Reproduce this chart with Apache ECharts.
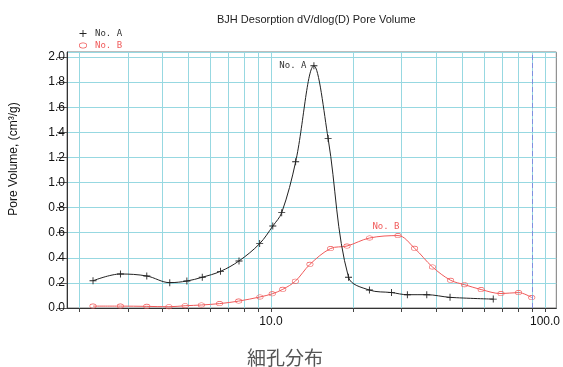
<!DOCTYPE html>
<html>
<head>
<meta charset="utf-8">
<script src="https://cdn.jsdelivr.net/npm/echarts@6/dist/echarts.min.js"></script>
<style>
  html, body { margin: 0; padding: 0; background: #fff; }
  #chart { width: 563px; height: 367px; }
</style>
</head>
<body>
<div id="chart"></div>
<script>
// Pore diameter (nm) and dV/dlog(D) pore volume (cm³/g) for each sample
const diameterA = [2.24, 2.82, 3.52, 4.27, 4.93, 5.61, 6.54, 7.64, 9.09, 10.15, 10.94, 12.30, 14.34, 16.16, 19.18, 22.86, 27.54, 31.45, 37.03, 45.02, 64.73];
const volumeA   = [0.217, 0.271, 0.255, 0.202, 0.215, 0.245, 0.292, 0.375, 0.513, 0.653, 0.760, 1.165, 1.93, 1.350, 0.245, 0.143, 0.123, 0.106, 0.106, 0.085, 0.071];

const diameterB = [2.24, 2.82, 3.52, 4.24, 4.86, 5.57, 6.49, 7.62, 9.11, 10.10, 11.04, 12.27, 13.87, 16.50, 18.94, 22.90, 29.07, 33.42, 38.84, 45.24, 50.84, 58.47, 69.09, 80.09, 89.49];
const volumeB   = [0.015, 0.015, 0.013, 0.010, 0.018, 0.024, 0.035, 0.055, 0.088, 0.113, 0.149, 0.214, 0.348, 0.474, 0.494, 0.558, 0.577, 0.476, 0.327, 0.221, 0.186, 0.147, 0.115, 0.123, 0.083];

const seriesNames = ['No. A', 'No. B'];

// Log-axis ticks/grid and labelled decades
const xTickValues  = [2, 3, 4, 5, 6, 7, 8, 9, 10, 20, 30, 40, 50, 60, 70, 80, 90, 100];
const xLabelValues = [10, 100];
const xMin = 1.8, xMax = 110;
const yMin = 0, yMax = 2.04, yStep = 0.2;
const markerLine = 90;

const chartTitle = 'BJH Desorption dV/dlog(D) Pore Volume';
const yTitle = 'Pore Volume, (cm³/g)';
const xTitle = '細孔分布';

const gridColor = '#97d8e1';
const colorA = '#222222';
const colorB = '#f05a5a';
const monoFont = 'DejaVu Sans Mono';

const plusPath = 'path://M3.5,0h1v3.5h3.5v1h-3.5v3.5h-1v-3.5h-3.5v-1h3.5z';
const ringPath = 'path://M5,0A5,3.6,0,1,1,4.99,0ZM5,0.9A4.1,2.7,0,1,0,5.01,0.9Z';

function pairs(xs, ys, peakLabel, labelOpt) {
  let peak = 0;
  ys.forEach((v, i) => { if (v > ys[peak]) peak = i; });
  return xs.map((x, i) => {
    const item = { value: [x, ys[i]] };
    if (i === peak) {
      item.label = Object.assign({
        show: true,
        formatter: peakLabel,
        fontFamily: monoFont,
        fontSize: 9
      }, labelOpt);
    }
    return item;
  });
}

const chart = echarts.init(document.getElementById('chart'), null, { renderer: 'canvas' });

chart.setOption({
  animation: false,
  backgroundColor: '#ffffff',
  title: {
    text: chartTitle,
    left: 212,
    top: 9,
    textStyle: { fontFamily: 'Liberation Sans, Arial', fontSize: 11, fontWeight: 'normal', color: '#222' }
  },
  legend: {
    orient: 'vertical',
    left: 74,
    top: 24,
    itemWidth: 8,
    itemHeight: 7,
    itemGap: 3,
    selectedMode: false,
    data: [
      { name: seriesNames[0], icon: plusPath, itemStyle: { color: colorA, borderWidth: 0 }, textStyle: { color: '#333' } },
      { name: seriesNames[1], icon: ringPath, itemStyle: { color: colorB, borderWidth: 0 }, textStyle: { color: colorB } }
    ],
    textStyle: { fontFamily: monoFont, fontSize: 9, padding: [0, 0, 0, 3] }
  },
  grid: {
    left: 67,
    top: 52,
    width: 493,
    height: 256,
    show: true,
    borderColor: '#7a7a7a',
    borderWidth: 1
  },
  xAxis: {
    type: 'log',
    logBase: 10,
    min: xMin,
    max: xMax,
    axisLine: { show: true, lineStyle: { color: '#333', width: 1 } },
    axisTick: { show: true, length: 4, customValues: xTickValues, lineStyle: { color: '#444' } },
    axisLabel: {
      customValues: xLabelValues,
      formatter: v => Number(v).toFixed(1),
      margin: 8,
      fontFamily: 'Liberation Sans, Arial',
      fontSize: 12,
      color: '#111'
    },
    splitLine: { show: true, lineStyle: { color: gridColor, width: 1 } },
    minorTick: { show: false },
    minorSplitLine: { show: false }
  },
  yAxis: {
    type: 'value',
    min: yMin,
    max: yMax,
    interval: yStep,
    axisLine: { show: true, lineStyle: { color: '#333', width: 1 } },
    axisTick: { show: true, length: 10, lineStyle: { color: '#555' } },
    axisLabel: {
      showMaxLabel: false,
      formatter: v => v.toFixed(1),
      margin: 2,
      fontFamily: 'Liberation Sans, Arial',
      fontSize: 12,
      color: '#111'
    },
    splitLine: { show: true, lineStyle: { color: gridColor, width: 1 } }
  },
  graphic: [
    {
      type: 'text',
      x: 14,
      y: 159,
      rotation: Math.PI / 2,
      style: {
        text: yTitle,
        fontFamily: 'Liberation Sans, Arial',
        fontSize: 12,
        fill: '#111',
        align: 'center',
        verticalAlign: 'middle'
      }
    },
    {
      type: 'text',
      x: 285,
      y: 358,
      style: {
        text: xTitle,
        fontFamily: 'Noto Sans CJK JP',
        fontSize: 19,
        fill: '#555',
        align: 'center',
        verticalAlign: 'middle'
      }
    }
  ],
  series: [
    {
      name: seriesNames[0],
      type: 'line',
      smooth: 0.35,
      symbol: plusPath,
      symbolSize: 7,
      showAllSymbol: true,
      lineStyle: { color: colorA, width: 1 },
      itemStyle: { color: colorA, borderWidth: 0 },
      data: pairs(diameterA, volumeA, seriesNames[0], { position: 'left', distance: 4, color: '#333' }),
      z: 3
    },
    {
      name: seriesNames[1],
      type: 'line',
      smooth: 0.35,
      symbol: ringPath,
      symbolSize: [7, 5],
      showAllSymbol: true,
      lineStyle: { color: colorB, width: 1 },
      itemStyle: { color: colorB, borderWidth: 0 },
      data: pairs(diameterB, volumeB, seriesNames[1], { position: 'top', distance: 4, offset: [-12, 2], color: colorB }),
      markLine: {
        silent: true,
        symbol: 'none',
        label: { show: false },
        lineStyle: { color: '#7f8fe0', type: [5, 3], width: 1 },
        data: [{ xAxis: markerLine }]
      },
      z: 2
    }
  ]
});
</script>
</body>
</html>
